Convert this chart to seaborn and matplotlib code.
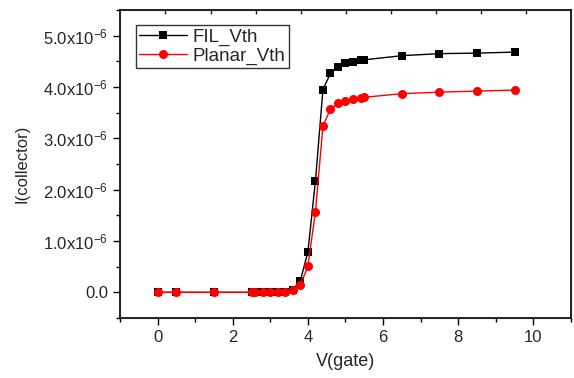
import matplotlib
matplotlib.use("Agg")
import matplotlib.pyplot as plt
import seaborn as sns
import numpy as np
import pandas as pd
from matplotlib.ticker import FuncFormatter, MultipleLocator

v_gate = [0, 0.5, 1.5, 2.5, 2.6, 2.8, 3.0, 3.2, 3.4, 3.6, 3.8, 4.0, 4.2,
          4.4, 4.6, 4.8, 5.0, 5.2, 5.4, 5.5, 6.5, 7.5, 8.5, 9.5]
fil_vth = [0.0, 0.0, 0.0, 0.0, 0.0, 0.0, 0.0, 0.005, 0.01, 0.05, 0.23, 0.79, 2.17,
           3.95, 4.27, 4.39, 4.46, 4.49, 4.52, 4.53, 4.61, 4.65, 4.66, 4.68]
planar_vth = [0.0, 0.0, 0.0, 0.0, 0.0, 0.0, 0.0, 0.0, 0.005, 0.04, 0.14, 0.51, 1.57,
              3.24, 3.57, 3.68, 3.72, 3.76, 3.78, 3.80, 3.87, 3.90, 3.92, 3.94]
series_names = ["FIL_Vth", "Planar_Vth"]
scale = 1e-6

sns.set_style("white")
plt.rcParams['font.family'] = ['Liberation Sans', 'DejaVu Sans']
plt.rcParams['mathtext.default'] = 'regular'

fig = plt.figure(figsize=(5.74, 3.78), dpi=100)
ax = fig.add_axes([120/574, 1-318/378, (571-120)/574, (318-10)/378])

df1 = pd.DataFrame({"V": v_gate, "I": np.array(fil_vth) * scale})
df2 = pd.DataFrame({"V": v_gate, "I": np.array(planar_vth) * scale})

sns.lineplot(data=df1, x="V", y="I", ax=ax, color="black", marker="s",
             markersize=6, markeredgewidth=0, linewidth=1.0, label=series_names[0])
sns.lineplot(data=df2, x="V", y="I", ax=ax, color="#ff0000", marker="o",
             markersize=6.5, markeredgewidth=0, linewidth=1.0, label=series_names[1])

ax.set_xlim(-1, 11)
ax.set_ylim(-0.5e-6, 5.5e-6)
ax.xaxis.set_major_locator(MultipleLocator(2))
ax.xaxis.set_minor_locator(MultipleLocator(1))
ax.yaxis.set_major_locator(MultipleLocator(1e-6))
ax.yaxis.set_minor_locator(MultipleLocator(0.5e-6))

def yfmt(v, pos):
    m = v / scale
    if abs(m) < 1e-9:
        return "0.0"
    return "%.1fx10$^{-6}$" % m

ax.yaxis.set_major_formatter(FuncFormatter(yfmt))
ax.tick_params(axis='both', which='both', direction='out', bottom=True, left=True,
               top=False, right=False, labelsize=12, color='black')
ax.tick_params(axis='both', which='major', length=5, width=1)
ax.tick_params(axis='both', which='minor', length=3, width=1)
for s in ax.spines.values():
    s.set_color('black')
    s.set_linewidth(1.2)

ax2 = ax.twiny()
ax2.set_xlim(-1, 11)
ax2.set_xticks([0.21 + 1.2 * i for i in range(9)])
ax2.tick_params(axis='x', direction='in', length=3, width=1, labeltop=False, top=True)
ax2.set_xticklabels([])

ax.set_xlabel("V(gate)", fontsize=13, labelpad=6)
ax.set_ylabel("I(collector)", fontsize=12, labelpad=10)

leg = ax.legend(loc='upper left', bbox_to_anchor=(0.035, 0.95), fontsize=13.5,
                frameon=True, fancybox=False, edgecolor='black', borderpad=0.15,
                handlelength=2.6, handletextpad=0.3, labelspacing=0.1, borderaxespad=0)
leg.get_frame().set_linewidth(1.0)

fig.savefig("out.png", dpi=100)
